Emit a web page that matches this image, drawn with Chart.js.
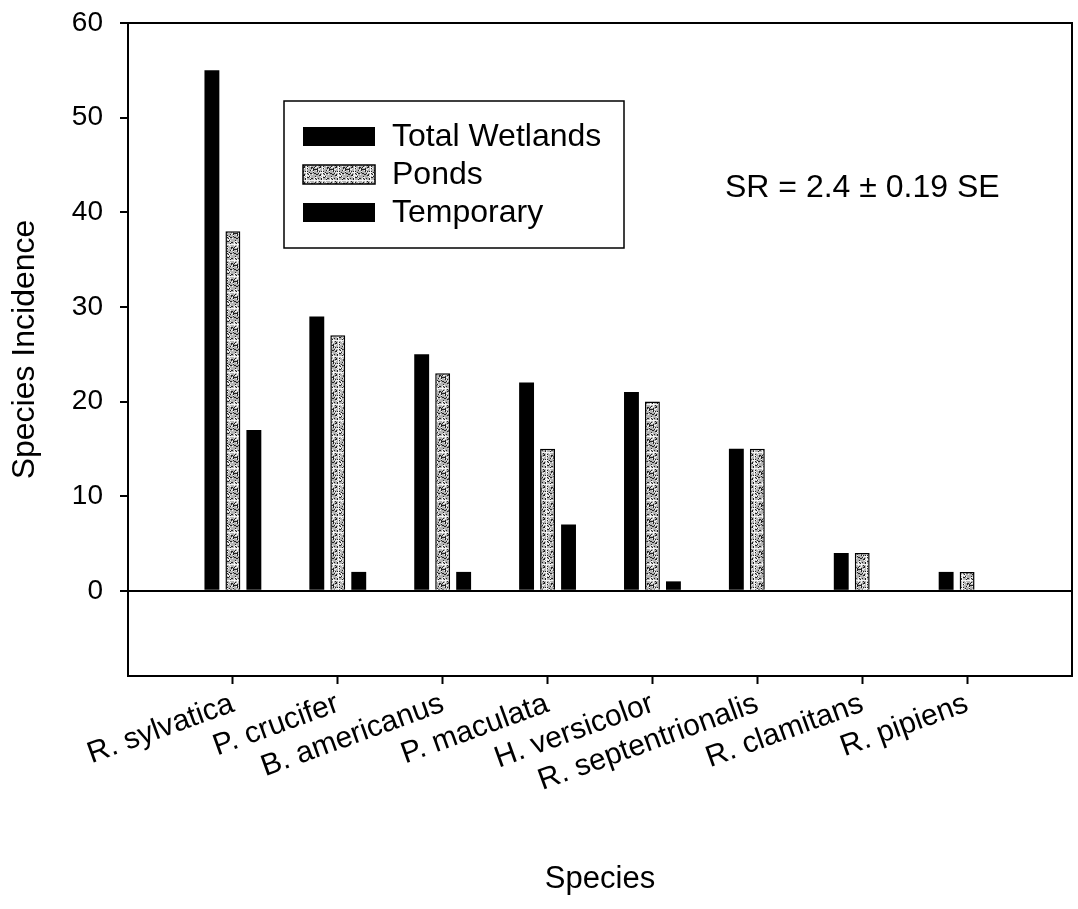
<!DOCTYPE html>
<html><head><meta charset="utf-8">
<script src="https://cdn.jsdelivr.net/npm/chart.js@4/dist/chart.umd.min.js"></script>
<style>html,body{margin:0;padding:0;background:#fff}#wrap{width:1078px;height:909px;position:relative}</style>
</head><body><div id="wrap"><canvas id="c"></canvas></div>
<script>
const species = ['R. sylvatica','P. crucifer','B. americanus','P. maculata','H. versicolor','R. septentrionalis','R. clamitans','R. pipiens'];
const totalWetlands = [55,29,25,22,21,15,4,2];
const ponds = [38,27,23,15,20,15,4,2];
const temporary = [17,2,2,7,1,0,0,0];
const yTicks = [0,10,20,30,40,50,60];
const seriesNames = ['Total Wetlands','Ponds','Temporary'];
const annotation = 'SR = 2.4 \u00B1 0.19 SE';
const yMin = -9, yMax = 60;

const FAMILY = '"Liberation Sans", Arial, Helvetica, sans-serif';
const canvas = document.getElementById('c');
const ctx = canvas.getContext('2d');

function makePattern(){
  const t = document.createElement('canvas'); t.width = 16; t.height = 16;
  const g = t.getContext('2d');
  g.fillStyle = '#b4b4b4'; g.fillRect(0,0,16,16);
  g.fillStyle = '#222222';
  for (let y=0;y<16;y++) for (let x=0;x<16;x++){
    const h = (x*37 + y*61 + x*y*17 + (x^y)*5) % 23;
    if (h < 6) g.fillRect(x,y,1,1);
  }
  g.fillStyle = '#f4f4f4';
  for (let y=0;y<16;y++) for (let x=0;x<16;x++){
    const h = (x*29 + y*43 + x*y*7) % 19;
    if (h < 4) g.fillRect(x,y,1,1);
  }
  return ctx.createPattern(t,'repeat');
}
const pondPattern = makePattern();

const labels = ['', ...species, ''];
const pad = arr => [null, ...arr, null];

const overlay = {
  id:'overlay',
  afterDraw(chart){
    const c = chart.ctx, a = chart.chartArea;
    c.save();
    c.strokeStyle = '#000'; c.lineWidth = 2;
    c.beginPath();
    c.moveTo(a.left-1, a.top); c.lineTo(a.right, a.top); c.lineTo(a.right, a.bottom+1);
    c.stroke();
    // legend box
    c.lineWidth = 1.5;
    c.strokeRect(284, 101, 340, 147);
    const rows = [137, 175, 213];
    chart.data.datasets.forEach((ds, i) => {
      const y = rows[i];
      c.fillStyle = ds.backgroundColor;
      c.fillRect(303, y-10, 72, 19);
      if (ds.borderWidth) { c.lineWidth = 1.5; c.strokeStyle = '#000'; c.strokeRect(303, y-10, 72, 19); }
      c.fillStyle = '#000';
      c.font = '32px ' + FAMILY;
      c.textAlign = 'left'; c.textBaseline = 'middle';
      c.fillText(ds.label, 392, y);
    });
    c.font = '32px ' + FAMILY;
    c.textAlign = 'left'; c.textBaseline = 'middle';
    c.fillStyle = '#000';
    c.fillText(annotation, 725, 188);
    c.restore();
  }
};

new Chart(canvas, {
  type:'bar',
  data:{ labels, datasets:[
    {label:seriesNames[0], data:pad(totalWetlands), backgroundColor:'#000', borderWidth:0},
    {label:seriesNames[1], data:pad(ponds), backgroundColor:pondPattern, borderColor:'#000', borderWidth:1.5},
    {label:seriesNames[2], data:pad(temporary), backgroundColor:'#000', borderWidth:0}
  ]},
  options:{
    responsive:true, maintainAspectRatio:false, animation:false,
    layout:{padding:{top:23, right:6, left:0, bottom:0}},
    datasets:{bar:{categoryPercentage:0.6, barPercentage:0.71}},
    plugins:{legend:{display:false}, tooltip:{enabled:false}},
    scales:{
      x:{
        type:'category', offset:false,
        grid:{offset:false, drawOnChartArea:false, tickLength:8, tickWidth:2,
              tickColor: c => (c.index===0 || c.index===labels.length-1) ? 'rgba(0,0,0,0)' : '#000'},
        border:{color:'#000', width:2},
        ticks:{autoSkip:false, minRotation:20, maxRotation:20, padding:2, color:'#000', font:{family:FAMILY, size:30}},
        title:{display:true, text:'Species', color:'#000', font:{family:FAMILY, size:31}, padding:{top:0, bottom:11}},
        afterFit: s => { s.height = 909 - 676; s.paddingLeft = 0; s.paddingRight = 0; }
      },
      y:{
        min:yMin, max:yMax,
        afterBuildTicks: s => { s.ticks = yTicks.map(v => ({value:v})); },
        grid:{color: c => (c.tick && c.tick.value === 0) ? '#000' : 'rgba(0,0,0,0)', lineWidth:2,
              tickLength:8, tickWidth:2, tickColor:'#000'},
        border:{color:'#000', width:2},
        ticks:{padding:17, color:'#000', font:{family:FAMILY, size:28}},
        title:{display:true, text:'Species Incidence', color:'#000', font:{family:FAMILY, size:32}, padding:{top:6, bottom:0}},
        afterFit: s => { s.width = 128; s.paddingTop = 0; s.paddingBottom = 0; }
      }
    }
  },
  plugins:[overlay]
});
</script>
</body></html>
